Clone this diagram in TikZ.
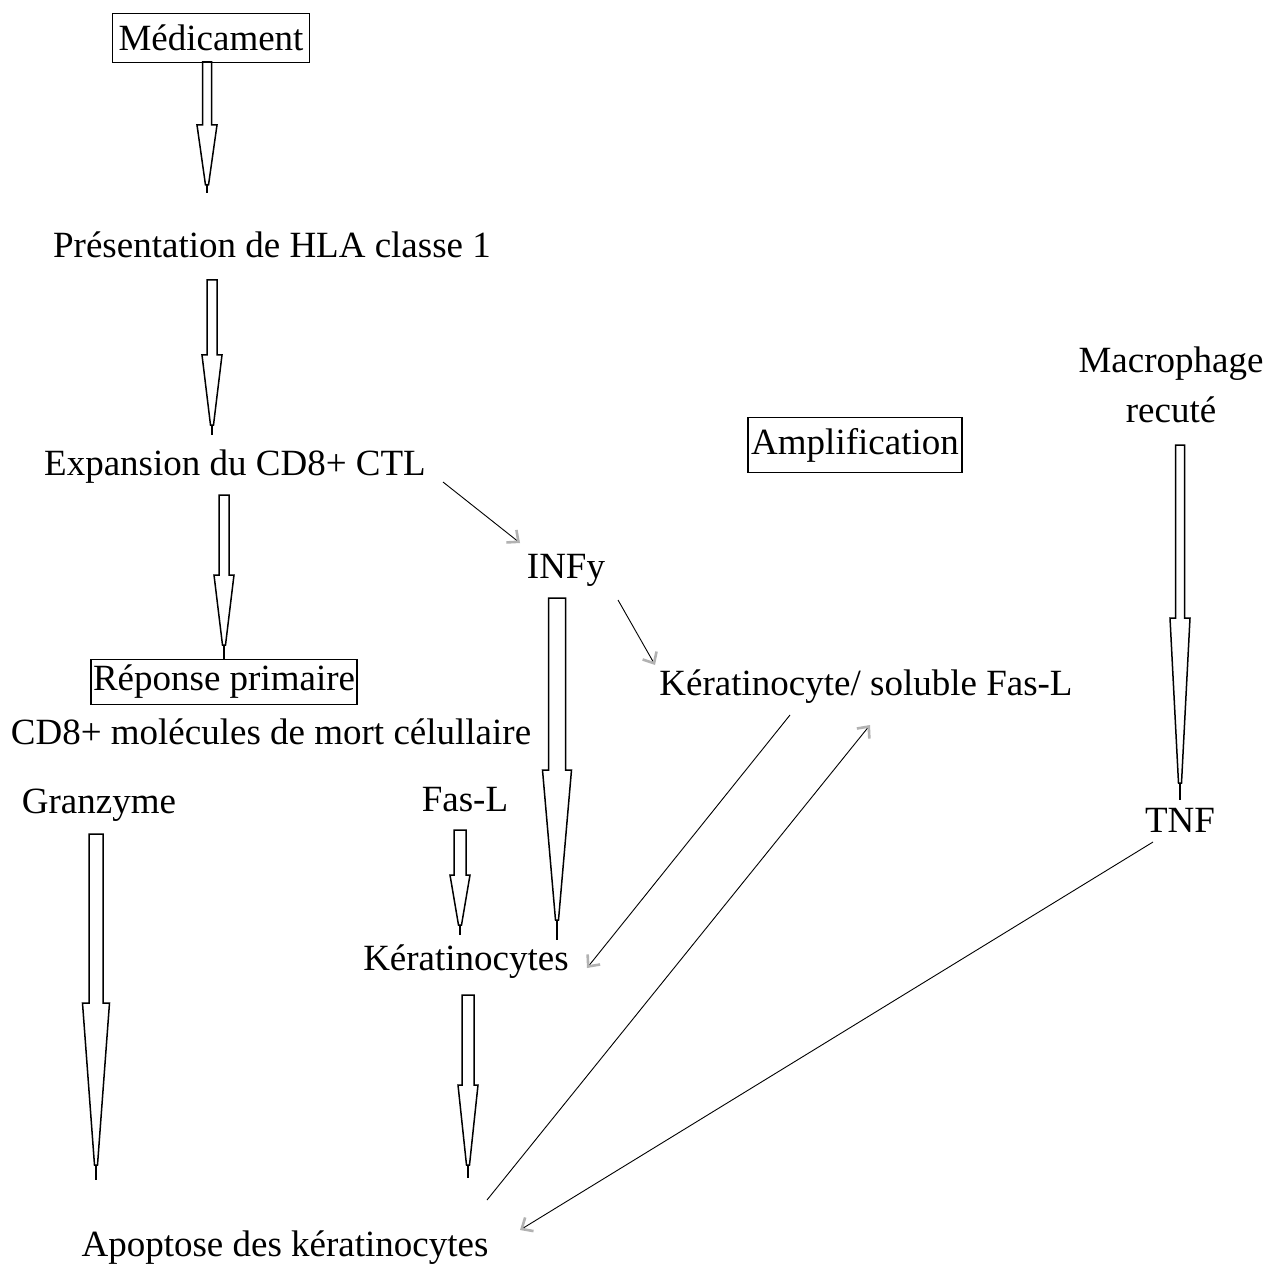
\documentclass[tikz,border=0pt]{standalone}
\usepackage{fontspec}
\setmainfont{Liberation Serif}
\usetikzlibrary{arrows.meta}
\newcommand\blkarrow[7]{%
  % x, top, shoulder, tip, end, shaft half width, head half width
  \draw[blk] ({#1-#6},#2) -- ({#1+#6},#2) -- ({#1+#6},#3) -- ({#1+#7},#3)
    -- ({#1+1.5},#4) -- ({#1-1.5},#4) -- ({#1-#7},#3) -- ({#1-#6},#3) -- cycle;
  \draw[blk] (#1,#4) -- (#1,#5);}
\tikzset{
  lbl/.style={font=\fontsize{37}{42}\selectfont, inner sep=1pt, align=center},
  boxed/.style={lbl, draw, line width=1.4pt, inner sep=3pt},
  blk/.style={line width=1.5pt, line join=miter},
  thin/.style={line width=0.9pt, -{Straight Barb[length=9pt,width=16pt,line width=2.6pt,color=gray!60]}}
}
\begin{document}
\begin{tikzpicture}[x=1pt,y=-1pt]
\useasboundingbox (0,0) rectangle (1280,1273);
\fill[white] (0,0) rectangle (1280,1273);

\node[boxed, minimum width=197pt, minimum height=49pt] (med) at (211,38) {Médicament};
\node[lbl] (pres) at (272,245) {Présentation de HLA classe 1};
\node[lbl] (exp) at (235,467) {Expansion du CD8+ CTL};
\node[boxed, inner sep=2pt, minimum width=265pt, minimum height=45pt] (rep) at (224,682) {Réponse primaire};
\node[lbl] (cd8) at (271,732) {CD8+ molécules de mort célullaire};
\node[lbl] (gran) at (99,805) {Granzyme};
\node[lbl] (fasl) at (465,800) {Fas-L};
\node[lbl] (kera) at (466,962) {Kératinocytes};
\node[lbl] (apo) at (285,1248) {Apoptose des kératinocytes};
\node[lbl] (infy) at (566,570) {INFy};
\node[lbl] (ksol) at (866,687) {Kératinocyte/ soluble Fas-L};
\node[boxed, minimum width=214pt, minimum height=55pt] (ampl) at (855,445) {Amplification};
\node[lbl, font=\fontsize{37}{50}\selectfont] (macro) at (1171,385) {Macrophage\\recuté};
\node[lbl] (tnf) at (1180,820) {TNF};

% block arrows
\blkarrow{207}{62}{125}{185}{193}{4.5}{10}
\blkarrow{212}{280}{355}{425}{435}{5}{10}
\blkarrow{224}{495}{575}{645}{660}{5}{10}
\blkarrow{96}{834}{1003}{1165}{1180}{7}{13.5}
\blkarrow{460}{830}{875}{925}{935}{6}{10}
\blkarrow{468}{995}{1085}{1165}{1178}{6}{10}
\blkarrow{557}{598}{770}{920}{940}{8.5}{14.5}
\blkarrow{1180}{445}{618}{783}{800}{4.5}{10}

% thin arrows
\coordinate (a1s) at (443,482); \coordinate (a1e) at (520,543);
\coordinate (a2s) at (618,600); \coordinate (a2e) at (655,665);
\coordinate (a3s) at (790,715); \coordinate (a3e) at (587,968);
\coordinate (a4s) at (487,1200); \coordinate (a4e) at (870,725);
\coordinate (a5s) at (1153,842); \coordinate (a5e) at (520,1230);
\draw[thin] (a1s) -- (a1e);
\draw[thin] (a2s) -- (a2e);
\draw[thin] (a3s) -- (a3e);
\draw[thin] (a4s) -- (a4e);
\draw[thin] (a5s) -- (a5e);
\end{tikzpicture}
\end{document}
